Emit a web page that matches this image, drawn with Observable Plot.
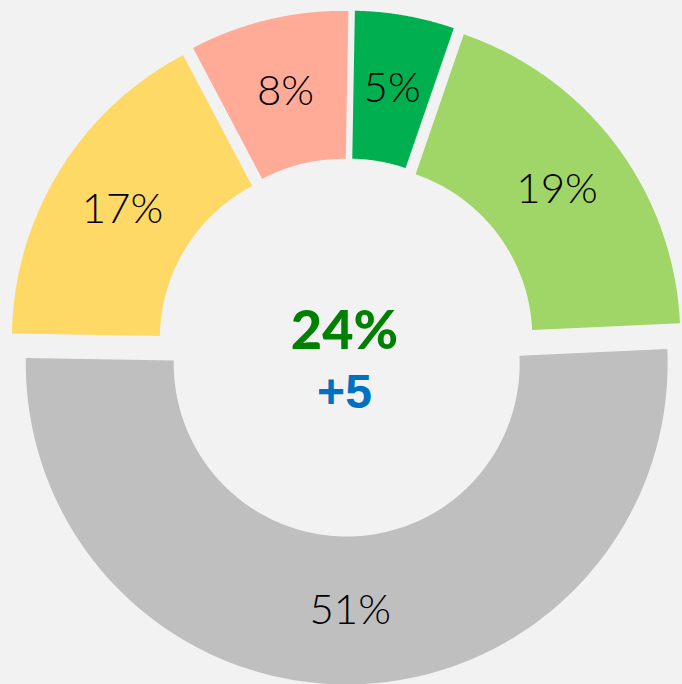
<!DOCTYPE html>
<html>
<head>
<meta charset="utf-8">
<script src="https://cdn.jsdelivr.net/npm/d3@7"></script>
<script src="https://cdn.jsdelivr.net/npm/@observablehq/plot@0.6"></script>
<style>
  html, body { margin: 0; padding: 0; background: #f2f2f2; }
  #chart { width: 682px; height: 684px; }
</style>
</head>
<body>
<div id="chart"></div>
<script>
// ---- data ----
const categories = ["Dark green", "Light green", "Grey", "Yellow", "Salmon"];
const values = [5, 19, 51, 17, 8];
const colors = ["#00b050", "#a0d568", "#bfbfbf", "#ffd966", "#ffab98"];
const labels = ["5%", "19%", "51%", "17%", "8%"];
const centerValue = "24%";
const centerDelta = "+5";

// ---- geometry (chart styling, not data) ----
const startDeg = 1;
const R = 1, r = 0.539, explode = 0.05, labelR = (R + r) / 2;
const rad = d => d * Math.PI / 180;

const pie = d3.pie().sort(null).value(d => d)
  .startAngle(rad(startDeg)).endAngle(rad(startDeg + 360));
const arcs = pie(values);

const slices = arcs.map((a, i) => {
  const mid = (a.startAngle + a.endAngle) / 2;
  const ox = explode * Math.sin(mid), oy = explode * Math.cos(mid);
  const n = 90, pts = [];
  for (let k = 0; k <= n; k++) {
    const t = a.startAngle + (a.endAngle - a.startAngle) * k / n;
    pts.push({x: ox + R * Math.sin(t), y: oy + R * Math.cos(t)});
  }
  for (let k = n; k >= 0; k--) {
    const t = a.startAngle + (a.endAngle - a.startAngle) * k / n;
    pts.push({x: ox + r * Math.sin(t), y: oy + r * Math.cos(t)});
  }
  return {
    category: categories[i], color: colors[i], pts,
    lx: ox + labelR * Math.sin(mid), ly: oy + labelR * Math.cos(mid),
    label: labels[i]
  };
});

const chart = Plot.plot({
  width: 682,
  height: 684,
  margin: 0,
  style: {background: "#f2f2f2"},
  x: {domain: [-1.078, 1.047], axis: null},
  y: {domain: [-1.050, 1.081], axis: null},
  marks: [
    ...slices.map(s => Plot.line(s.pts, {x: "x", y: "y", fill: s.color, stroke: "none"})),
    Plot.text(slices, {x: "lx", y: "ly", text: "label", fontSize: 42, fontWeight: 300, fontFamily: "Lato", fill: "#000"}),
    Plot.text([centerValue], {x: () => 0, y: () => 0, text: d => d, dy: -16, dx: -2,
      fontSize: 54, fontWeight: 900, fontFamily: "Lato", fill: "#008000"}),
    Plot.text([centerDelta], {x: () => 0, y: () => 0, text: d => d, dy: 45, dx: -2,
      fontSize: 48, fontWeight: "bold", fontFamily: "Liberation Sans", fill: "#0070c0"})
  ]
});
document.getElementById("chart").appendChild(chart);
</script>
</body>
</html>
